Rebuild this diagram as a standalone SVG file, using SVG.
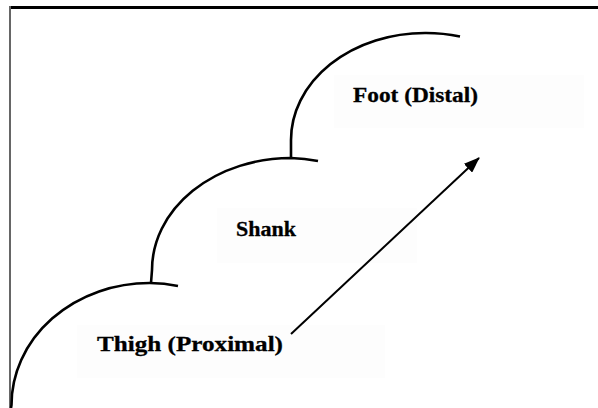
<svg xmlns="http://www.w3.org/2000/svg" width="598" height="408" viewBox="0 0 598 408">
<style>
.seg{fill:none;stroke:#000;stroke-width:2.6;stroke-linecap:butt}
.lbl{font-family:"Liberation Serif","Times New Roman",serif;font-weight:bold;font-size:21px;fill:#000;stroke:#000;stroke-width:0.3}
.box{fill:#fdfdfd;stroke:none}
</style>
<defs>
<marker id="ah" viewBox="0 0 16 12" refX="15" refY="6" markerWidth="16" markerHeight="12" markerUnits="userSpaceOnUse" orient="auto">
<path d="M0,0 L16,6 L0,12 z" fill="#000"/>
</marker>
</defs>
<rect width="598" height="408" fill="#fff"/>
<g id="frame">
<line x1="9" y1="7.5" x2="598" y2="7.5" stroke="#000" stroke-width="3"/>
<line x1="10" y1="6" x2="10" y2="408" stroke="#666" stroke-width="2"/>
</g>
<g id="thigh">
<rect class="box" x="77" y="325" width="308" height="53"/>
<path class="seg" d="M11,408 L11.5,405 A138 122 0 0 1 150 283 A138 122 0 0 1 178 286"/>
<text class="lbl" x="97" y="351" textLength="186" lengthAdjust="spacingAndGlyphs">Thigh (Proximal)</text>
</g>
<g id="shank">
<rect class="box" x="217" y="208" width="200" height="55"/>
<path class="seg" d="M151,283 L152,270 A139 112 0 0 1 291 158 A139 112 0 0 1 318 161"/>
<text class="lbl" x="236" y="236" textLength="60" lengthAdjust="spacingAndGlyphs">Shank</text>
</g>
<g id="foot">
<rect class="box" x="334" y="75" width="250" height="53"/>
<path class="seg" d="M291,158 L291,140 A134 107 0 0 1 425 33 A134 107 0 0 1 460 36.5"/>
<text class="lbl" x="353" y="102" textLength="125" lengthAdjust="spacingAndGlyphs">Foot (Distal)</text>
</g>
<g id="connectors">
<line x1="291" y1="334" x2="479" y2="158" stroke="#000" stroke-width="2" marker-end="url(#ah)"/>
</g>
</svg>
